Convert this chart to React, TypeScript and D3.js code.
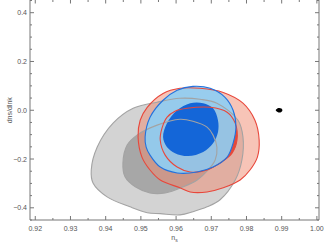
import * as d3 from "d3";

// contours: [n_s, dns/dlnk]
const grayOuter: [number, number][] = [
  [0.9359, -0.245], [0.9376, -0.151], [0.9421, -0.053], [0.9478, 0.008],
  [0.9546, 0.033], [0.9611, 0.049], [0.9668, 0.045], [0.9716, 0.029],
  [0.9776, -0.041], [0.979, -0.11], [0.9787, -0.204], [0.9768, -0.286],
  [0.9725, -0.367], [0.9688, -0.396], [0.9648, -0.416], [0.9611, -0.429],
  [0.9555, -0.424], [0.9518, -0.42], [0.9469, -0.396], [0.9404, -0.355],
  [0.9364, -0.298],
];
const grayInner: [number, number][] = [
  [0.9449, -0.216], [0.9461, -0.143], [0.9489, -0.102], [0.9546, -0.061],
  [0.9611, -0.037], [0.9648, -0.045], [0.9688, -0.069], [0.9705, -0.102],
  [0.9716, -0.151], [0.9711, -0.204], [0.9691, -0.245], [0.966, -0.286],
  [0.962, -0.314], [0.9569, -0.339], [0.9526, -0.339], [0.9484, -0.314],
  [0.9455, -0.273],
];
const redOuter: [number, number][] = [
  [0.9492, -0.11], [0.9498, -0.041], [0.9518, 0.012], [0.9563, 0.069],
  [0.9611, 0.09], [0.9668, 0.09], [0.9734, 0.073], [0.979, 0.029],
  [0.9824, -0.041], [0.9836, -0.122], [0.9831, -0.192], [0.981, -0.245],
  [0.9782, -0.286], [0.9734, -0.318], [0.9688, -0.335], [0.964, -0.335],
  [0.9611, -0.318], [0.9555, -0.286], [0.9526, -0.245], [0.9503, -0.192],
];
const redInner: [number, number][] = [
  [0.9555, -0.122], [0.956, -0.073], [0.9574, -0.029], [0.9597, -0.004],
  [0.9631, 0.008], [0.9697, 0.012], [0.9745, -0.008], [0.9768, -0.053],
  [0.9773, -0.122], [0.9759, -0.176], [0.9725, -0.216], [0.9688, -0.245],
  [0.964, -0.253], [0.9603, -0.233], [0.9569, -0.184],
];
const blueOuter: [number, number][] = [
  [0.9512, -0.11], [0.9526, -0.029], [0.9563, 0.041], [0.9603, 0.082],
  [0.9648, 0.098], [0.9697, 0.09], [0.9739, 0.053], [0.9762, 0.0],
  [0.977, -0.069], [0.9762, -0.135], [0.9745, -0.192], [0.9705, -0.233],
  [0.966, -0.253], [0.9603, -0.257], [0.9555, -0.233], [0.9526, -0.184],
  [0.9515, -0.151],
];
const blueInner: [number, number][] = [
  [0.9563, -0.11], [0.9574, -0.053], [0.9603, 0.0], [0.964, 0.029],
  [0.9677, 0.029], [0.9705, 0.008], [0.9719, -0.041], [0.9719, -0.09],
  [0.9705, -0.135], [0.9677, -0.171], [0.9634, -0.188], [0.9597, -0.176],
  [0.9574, -0.151],
];
const blackSpot: [number, number][] = [
  [0.9883, 0.0], [0.9891, 0.009], [0.9899, 0.007], [0.9902, 0.0],
  [0.9899, -0.007], [0.9891, -0.009],
];

const xTicks = [0.92, 0.93, 0.94, 0.95, 0.96, 0.97, 0.98, 0.99, 1.0];
const yTicks = [-0.4, -0.2, 0.0, 0.2, 0.4];

const width = 327, height = 245;
const MARGIN = { top: 0.5, right: 8, bottom: 25, left: 30 };

const App = () => {
  const x = d3.scaleLinear().domain([0.9185, 1.0006]).range([MARGIN.left, width - MARGIN.right]);
  const y = d3.scaleLinear().domain([-0.45, 0.45]).range([height - MARGIN.bottom, MARGIN.top]);
  const line = d3
    .line<[number, number]>()
    .x((d) => x(d[0]))
    .y((d) => y(d[1]))
    .curve(d3.curveCatmullRomClosed.alpha(0.5));

  const [x0, x1] = x.range();
  const [y0, y1] = y.range();
  const xMinor = d3.range(0.92, 1.0006, 0.005).filter((v) => !xTicks.some((t) => Math.abs(t - v) < 1e-6));
  const yMinor = d3.range(-0.45, 0.451, 0.05).filter((v) => !yTicks.some((t) => Math.abs(t - v) < 1e-6));

  const axisColor = "#777";
  const font = "'Liberation Sans', Arial, sans-serif";

  const shapes = [
    { d: grayOuter, fill: "#d3d3d3", op: 1 },
    { d: grayInner, fill: "#a7a7a7", op: 1 },
    { d: redOuter, fill: "#f08a70", op: 0.5 },
    { d: redInner, fill: "#e3402f", op: 0.9 },
    { d: blueOuter, fill: "#8fcdf2", op: 0.92 },
    { d: blueInner, fill: "#1466d8", op: 1 },
  ];
  const strokes = [
    { d: grayOuter, stroke: "#a3a3a3" },
    { d: grayInner, stroke: "#a3a3a3" },
    { d: redOuter, stroke: "#e8473b" },
    { d: redInner, stroke: "#e8473b" },
    { d: blueOuter, stroke: "#2272de" },
  ];

  return (
    <svg width={width} height={height} style={{ position: "absolute", left: 0, top: 0 }}>
      <rect width={width} height={height} fill="white" />
      {shapes.map((s, i) => (
        <path key={i} d={line(s.d) || ""} fill={s.fill} fillOpacity={s.op} />
      ))}
      {strokes.map((s, i) => (
        <path key={i} d={line(s.d) || ""} fill="none" stroke={s.stroke} strokeWidth={1.1} />
      ))}
      <path d={line(blackSpot) || ""} fill="black" />

      {/* frame: top edge sits just outside the picture */}
      <path d={`M${x0},${y1 - 2}V${y0}H${x1}V${y1 - 2}`} fill="none" stroke={axisColor} strokeWidth={1} />
      {xTicks.map((t) => (
        <g key={t}>
          <line x1={x(t)} x2={x(t)} y1={y0} y2={y0 - 4} stroke={axisColor} />
          <line x1={x(t)} x2={x(t)} y1={y1 - 1} y2={y1 + 3} stroke={axisColor} />
          <text x={x(t)} y={y0 + 11} textAnchor="middle" fontSize={7} fill="#555" fontFamily={font}>
            {t.toFixed(2)}
          </text>
        </g>
      ))}
      {xMinor.map((t) => (
        <g key={t}>
          <line x1={x(t)} x2={x(t)} y1={y0} y2={y0 - 2} stroke={axisColor} />
          <line x1={x(t)} x2={x(t)} y1={y1 - 1} y2={y1 + 1.5} stroke={axisColor} />
        </g>
      ))}
      {yTicks.map((t) => (
        <g key={t}>
          <line x1={x0} x2={x0 + 4} y1={y(t)} y2={y(t)} stroke={axisColor} />
          <line x1={x1} x2={x1 - 4} y1={y(t)} y2={y(t)} stroke={axisColor} />
          <text x={x0 - 3} y={y(t) + 2.5} textAnchor="end" fontSize={7} fill="#555" fontFamily={font}>
            {t < 0 ? "\u2212" + Math.abs(t).toFixed(1) : t.toFixed(1)}
          </text>
        </g>
      ))}
      {yMinor.map((t) => (
        <g key={t}>
          <line x1={x0} x2={x0 + 2} y1={y(t)} y2={y(t)} stroke={axisColor} />
          <line x1={x1} x2={x1 - 2} y1={y(t)} y2={y(t)} stroke={axisColor} />
        </g>
      ))}
      <text
        transform={`translate(12,${y(0)}) rotate(-90)`}
        textAnchor="middle"
        fontSize={7}
        fill="#555"
        fontFamily={font}
      >
        dns/dlnk
      </text>
      <text x={(x0 + x1) / 2} y={y0 + 20} textAnchor="middle" fontSize={7} fill="#555" fontFamily={font}>
        n<tspan fontSize={5} dy={1.5}>s</tspan>
      </text>
    </svg>
  );
};

export default App;
